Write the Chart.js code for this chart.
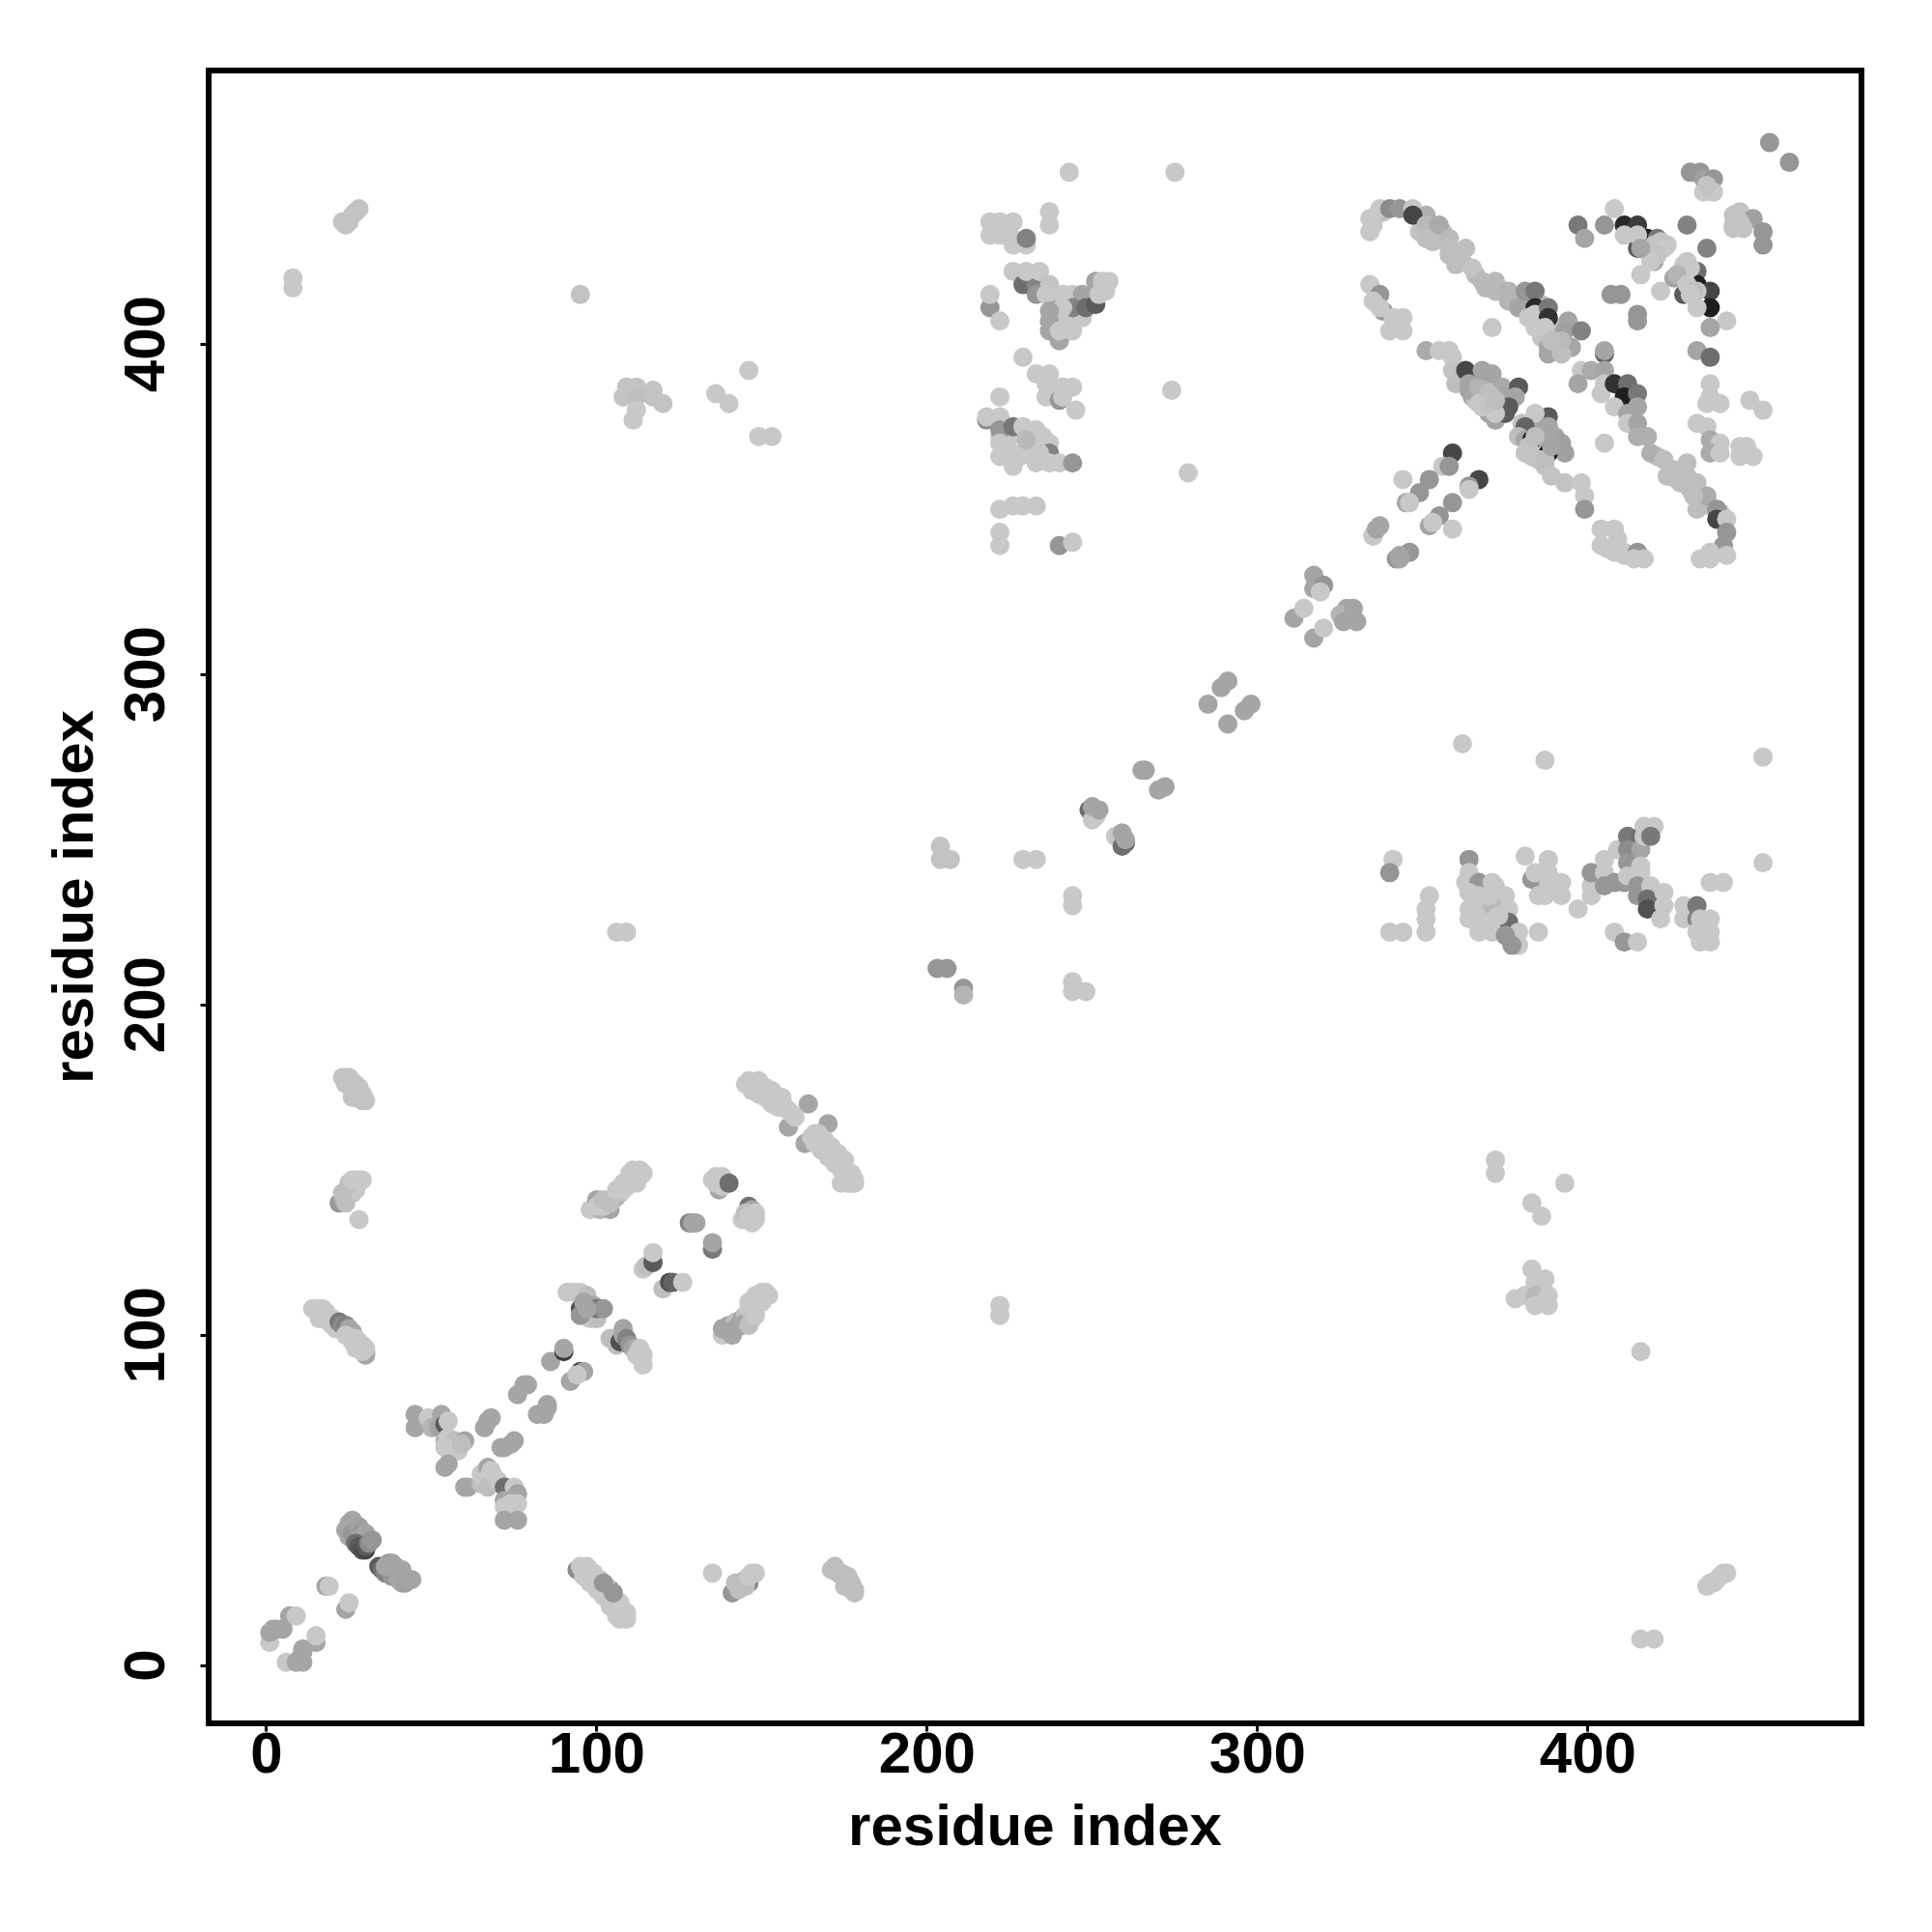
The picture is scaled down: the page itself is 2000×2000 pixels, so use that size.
<!DOCTYPE html>
<html>
<head>
<meta charset="utf-8">
<title>residue contacts</title>
<script src="https://cdn.jsdelivr.net/npm/chart.js@4"></script>
<style>
  html, body { margin: 0; background: #fff; }
  canvas { display: block; }
</style>
</head>
<body>
<canvas id="contacts" width="2000" height="2000"></canvas>
<script>
const xTicks = [0, 100, 200, 300, 400];
const yTicks = [0, 100, 200, 300, 400];
const axisLabel = 'residue index';

// contacts, one group per patch: residue x, residue y, grey level
const startX = [1,1,2,3,5,7,9,6,9,10,11,11,11,15,15,18,19,24,25];
const startY = [7,10,11,11,11,15,15,1,1,2,1,4,5,7,9,24,24,17,19];
const startG = [200,165,165,165,165,165,200,200,165,165,165,165,165,165,200,165,200,165,200];

const sheetAX = [24,25,26,27,25,26,28,29,28,30,27,28,29,30,30,31,32, 34,35,36,37,38,39,40,38,40,41,42,43,44,41,36];
const sheetAY = [41,43,44,42,39,40,42,40,38,40,37,36,35,35,36,37,38, 30,29,28,31,31,30,28,27,26,25,25,26,26,29,30];
const sheetAG = [165,165,165,165,165,150,160,150,165,165,110,90,80,70,90,140,150, 90,110,130,150,160,165,160,150,165,165,160,165,165,165,165];

const lowRowX = [94,95,96,97,98,99,100,101,102,103,104,104,105,106,107,108,108,107,109,106,96,98,100,102,104,106,107,109,97,99,101,103,102,105, 135, 141,142,143,144,145,146,142,143,145,147,148,146, 171,172,173,174,175,176,177,177,178,178,176,175];
const lowRowY = [29,30,29,28,27,26,25,24,23,22,23,20,19,18,17,16,15,14,14,15,27,25,23,21,18,16,19,16,30,28,26,24,25,22, 28, 22,23,25,24,26,25,25,23,24,28,28,27, 29,30,28,28,26,25,25,23,22,23,27,24];
const lowRowG = [140,200,200,200,200,200,200,200,200,200,130,200,200,200,200,200,200,200,200,200,200,200,200,200,200,200,200,200,200,200,200,200,150,150, 200, 150,150,165,150,165,130,190,190,190,200,200,200, 190,190,190,190,190,190,190,190,190,190,190,190];

const crossX = [45,45,49,50,53,52,54,55,54,56,55,57,54,58,60,59,55,54, 61,60,65,65,67,66,69,67,68,70,72,75,76,72,72,76,74,72,76];
const crossY = [72,76,75,72,76,72,73,74,68,66,69,68,66,65,68,67,61,60, 54,54,55,58,60,56,57,54,59,56,54,54,52,50,48,49,49,44,44];
const crossG = [165,165,200,180,165,165,90,200,180,200,200,190,200,200,165,190,165,165, 165,165,190,200,165,200,190,190,200,200,110,200,165,165,200,200,200,165,165];

const armX = [66,67,68,71,72,74,75, 76,78,79, 82,84,85,85, 86,90,90, 92,95,96,94];
const armY = [72,74,75,66,66,67,68, 82,85,85, 76,76,78,79, 92,95,96, 86,89,89,88];
const armG = [165,165,165,165,165,165,165, 165,165,165, 165,165,165,165, 165,60,165, 165,60,165,200];

const sheetBX = [91,93,95,97,95,96,96,97,98,100,99,100,102,95,97, 104,106,107,108,108,109,110,111,113,114,114,112, 114,115,117,117, 120,122,123,126, 128,129,130,135,135];
const sheetBY = [113,113,113,112,108,107,110,106,105,105,109,108,108,106,108, 99,97,98,102,100,99,97,96,96,94,91,94, 120,121,122,125, 114,116,116,116, 134,134,134,126,128];
const sheetBG = [200,200,200,190,80,60,165,150,200,190,165,120,150,150,165, 190,190,80,165,165,130,150,165,200,200,200,200, 200,190,90,200, 190,80,100,200, 130,165,165,120,165];

const bandX = [138,138,140,141,142,143,144,145,146,146,147,148,149,150,151,152,140,142,144,146,147,148,150,150,148,146, 98,100,101,104,102,103,105,106,107,108,109,110,111,112,113,114,100,102,104,106,108,110,111,113,112];
const bandY = [100,102,103,100,104,103,105,106,105,108,107,109,111,113,113,112,101,102,103,103,105,106,110,111,112,110, 138,141,138,138,139,140,141,142,143,144,145,147,148,149,150,149,139,141,140,144,146,149,150,148,146];
const bandG = [200,165,165,165,190,165,165,190,165,200,200,200,200,200,200,200,165,165,165,190,190,200,200,200,200,200, 200,165,180,165,200,190,190,165,190,200,200,200,200,200,200,200,200,190,190,200,200,200,200,200,200];

const topBandX = [135,136,138,137,136,138,140, 144,146,147,145,146,147,148,148, 158,163,164,170, 145,146,147,148,149,150,151,152,153,154,155,156,157,158,159,160,147,149,151,153,155,149,151,153,156, 165,166,167,168,169,170,171,172,173,174,175,176,176,177,178,175,174,166,168,170,172,174,176,178,167,169,171,173,175,177];
const topBandY = [147,148,148,144,146,145,146, 135,139,138,137,136,134,135,137, 163,158,170,164, 176,177,176,175,175,174,174,173,172,172,171,170,169,168,167,166,174,173,172,170,169,177,175,174,172, 160,161,159,158,157,156,155,154,153,152,150,149,147,146,146,148,146,158,156,154,152,150,146,147,161,159,157,155,153,149];
const topBandG = [200,200,200,165,200,200,110, 200,110,165,190,200,200,200,200, 165,165,165,165, 200,200,200,200,200,200,200,200,200,200,200,200,200,200,200,200,200,200,200,200,200,200,200,200,200, 200,200,200,200,200,200,200,200,200,200,200,200,200,200,200,200,200,200,200,200,200,200,200,200,200,200,200,200,200,200];

const leftX = [23,24,25,25,26,27,27,28,28,29,29,30,26,24,26, 22,23,24,25,24,25,26,27,28,29,26,27,23,25,27,26, 28, 14,15,16,17,17,18,19,20,21,16,18,20,22,23,24,25,26,24,26,27,27,28,28,29,30,30,30,29];
const leftY = [178,178,178,176,176,176,174,175,173,173,171,171,174,176,172, 140,141,142,143,140,144,145,146,147,147,143,144,143,146,147,147, 135, 108,108,107,108,106,105,104,103,102,105,107,105,104,103,103,102,101,100,98,99,96,98,96,97,95,94,96,95];
const leftG = [195,195,195,195,195,195,195,195,195,195,195,195,195,195,195, 150,165,165,150,190,140,165,200,200,200,190,200,190,190,200,200, 200, 200,200,200,200,200,200,200,200,200,200,200,200,120,140,130,165,165,200,200,200,200,200,200,200,120,165,200,200];

const farLeftX = [24,23,26,28,25,27, 8,8, 95, 109,112,108,112,117,117,120,111,112, 136,140,146,149,153, 243,275,274,279];
const farLeftY = [436,437,439,441,437,440, 420,417, 415, 387,387,384,384,386,384,382,377,380, 385,382,392,372,372, 452,452,386,361];
const farLeftG = [195,195,195,195,195,195, 200,200, 195, 195,195,195,190,195,195,195,200,200, 200,200,200,200,200, 200,200,200,200];

const midFillX = [222,224,226,228,230,232,235,225,228,232,226,243,246,249,245,241,238];
const midFillY = [372,370,367,366,368,369,372,372,373,366,364,408,409,413,413,408,412];
const midFillG = [200,200,200,200,200,200,200,200,200,200,200,200,195,190,190,200,165];

const midTopX = [237,237, 219,222,226,219,222,223,226,225,226,230,230, 226,229,233,230,234,237,233,236,241,244,247, 247,244,241,237,237,237,240,240,244,248,251,251,253,255,254,252, 219,219,222,229, 233,237,236,241,244,236,240,241,245, 222,218,218,222,222,226,229,233,222,222,226,230,233,237,237,234,237,240,244, 222,226,229,233, 222,222,240,244];
const midTopY = [440,436, 437,437,437,433,433,435,431,433,430,430,432, 422,418,418,422,422,418,415,415,415,415,415, 408,411,411,410,407,404,401,404,404,411,412,419,419,419,416,415, 411,415,407,396, 391,391,388,387,387,384,383,384,380, 384,377,378,378,374,375,375,374,370,366,363,371,364,370,367,367,364,364,364, 350,351,351,351, 343,339,339,340];
const midTopG = [200,200, 200,200,200,200,200,200,140,200,200,200,130, 200,110,130,200,200,195,150,200,200,200,165, 200,130,200,165,165,165,165,200,200,110,90,165,200,200,200,200, 150,200,200,200, 200,200,200,200,200,200,150,200,200, 200,140,200,200,150,120,200,200,200,200,200,185,200,200,130,200,200,200,150, 200,200,200,200, 200,200,150,200];

const ridgeFillX = [365,366,366,369,372,376,373,369,366,370,372,375, 380,382,384,385,386,385,383,387,390,390,387,384, 384,386,387,390,390,386,391,394,395,388, 335,336,338,349,352,353,356,358,361,362,366,369,373,378, 421,426,427,431,435,437,440,406,409,411];
const ridgeFillY = [384,388,385,388,385,382,380,381,383,379,377,379, 376,373,377,375,373,368,366,376,369,372,363,370, 413,412,410,405,403,402,402,407,399,399, 436,439,440,434,434,431,434,427,427,425,421,417,417,413, 366,362,359,356,352,351,349,338,341,336];
const ridgeFillG = [165,20,165,190,180,165,190,195,195,165,165,90, 195,100,195,195,165,195,195,165,165,165,195,195, 165,190,195,190,190,195,185,165,165,165, 200,200,190,195,190,190,190,190,190,190,185,185,180,180, 190,190,190,190,190,190,185,200,200,200];

const ridgeAX = [334,334,337,340,343,347,351,347,351,355,351,358,358,363,360,365,368,372,372,376,376,379,381,384,384,382,384,388,388,384,387,393,398,388,392,392,389, 371, 407,410, 415,415];
const ridgeAY = [434,438,441,441,441,441,439,439,436,436,432,432,429,429,424,423,419,419,416,416,413,411,416,416,411,408,409,411,408,405,405,404,404,397,401,397,401, 405, 415,415, 409,407];
const ridgeAG = [200,200,200,140,150,200,175,70,185,170,190,185,190,190,190,195,185,185,185,180,180,165,150,120,40,200,200,120,50,200,200,160,130,165,185,190,190, 200, 150,150, 150,150];

const ridgeBX = [334,337,335,338,337,341,344,340,344, 351,355,358,359,359,360,363,364,364,367,371,367,374,371,375,370,368,379,378,376,372,368, 388,384,381,388,379,381,383,388,392,393,388,381,385,389,393,398,399,399, 370,372,382,384,387,389];
const ridgeBY = [418,415,413,410,411,408,408,404,404, 398,398,398,396,392,388,392,388,386,387,384,382,387,391,384,385,392,387,384,381,379,381, 378,379,375,375,372,371,371,371,370,367,367,367,365,360,358,358,354,350, 382,383,369,372,365,369];
const ridgeBG = [200,150,200,150,200,200,200,200,200, 170,200,200,200,195,190,70,165,165,180,20,200,170,165,165,190,165,90,165,90,200,200, 90,200,100,165,190,165,20,165,160,160,20,195,195,195,195,200,200,150, 195,190,195,190,190,165];

const ridgeCX = [405,405,398,401,405,397,404,405,408,412,411,415,415,408,412, 405,412,415,415,418,419,423,424,430,430,428,433,433,436,432,439,439,442,442,441, 434,437,442,437, 404,408,404,408,408,411,415,414,417];
const ridgeCY = [397,398,392,392,392,388,385,388,388,388,384,385,381,381,379, 370,376,376,372,372,367,365,360,364,360,358,358,350,354,354,350,347,347,343,339, 335,335,336,337, 344,344,339,339,337,337,337,335,335];
const ridgeCG = [100,165,200,170,165,165,200,200,50,110,30,120,165,200,165, 200,200,165,175,175,175,190,190,190,190,190,190,190,170,190,150,70,200,150,150, 200,200,200,200, 200,200,200,200,200,200,150,200,200];

const diagUpX = [359,356,358,344,352,349,345,346,367,364,364,359,355,352,353,359,337,335,335,336,346,342,343,343];
const diagUpY = [367,363,363,359,359,355,352,352,359,357,356,352,348,345,346,344,345,342,342,344,337,335,336,335];
const diagUpG = [70,200,150,200,150,150,165,200,70,150,200,150,150,165,200,200,165,100,200,165,150,150,165,165];

const cornerX = [431,434,435,438,435,438,436, 444,446,450,444,447,453,453,444,446, 455,461, 408,397,399,405,411,415,418,421,415,411,415,420,419,424,418,420,422,423,421,419,416, 430,436,416,422, 430,426,433,433,429,437,437,433,433,442,437,433,437,429,431,427,430,432,431];
const cornerY = [452,452,450,450,446,446,448, 439,440,438,435,435,434,430,436,437, 461,455, 441,436,432,436,436,436,432,432,429,433,433,425,428,430,428,430,431,429,427,425,429, 436,429,421,416, 425,420,422,418,415,416,411,411,416,407,405,398,396,424,423,421,418,416,415];
const cornerG = [150,150,160,150,200,200,195, 195,195,160,195,195,150,150,195,195, 150,150, 200,120,165,150,40,60,30,120,90,200,200,165,200,200,195,195,195,200,195,200,165, 130,130,200,200, 200,165,110,30,90,70,30,200,200,200,165,165,110,200,200,180,200,190,200];

const rightX = [437,436,440,437,449,453,433,436,437,440,437,440,446,448,446,450, 362,387,453,453];
const rightY = [388,382,382,384,383,380,376,375,371,370,367,367,369,369,366,366, 279,274,275,243];
const rightG = [200,200,200,200,200,200,200,200,170,200,170,200,200,200,200,200, 200,200,200,200];

const diagMidX = [311,314,317,320,317,317,320,319,327,325,326,330,329, 285,289,291,291,296,298, 265,266,270,272, 249,251,250,252,250,257,260,259,259,260];
const diagMidY = [317,320,311,314,330,326,327,325,320,318,316,316,320, 291,296,298,285,289,291, 271,271,265,266, 259,257,256,259,260,251,249,248,252,250];
const diagMidG = [165,200,165,200,165,165,150,200,165,180,165,165,165, 165,165,165,165,165,165, 165,165,165,165, 110,200,200,165,165,200,100,110,165,165];

const lowMidX = [204,204,207,229,233,244,244, 106,109, 203,206,211,211,244,244,248, 222,222];
const lowMidY = [248,244,244,244,244,233,230, 222,222, 211,211,205,203,207,204,204, 109,106];
const lowMidG = [195,195,195,200,200,200,200, 200,200, 150,150,150,180,200,200,200, 200,200];

const blockAX = [341,340,364,364,363,367,371,352,351,351,351,340,344,364,375,364,367,371,376,376,367,371,379,375,379,377,385,367,370,373,367,370,364,372];
const blockAY = [244,240,244,240,237,237,237,233,229,226,222,222,222,234,233,226,229,230,229,225,222,222,222,221,218,218,222,233,233,227,225,225,229,236];
const blockAG = [200,150,150,200,200,150,200,200,200,200,200,200,200,200,200,200,200,185,200,110,200,200,200,150,200,150,200,200,200,200,200,200,200,200];

const blockBX = [381,383,384,388,388,388,392,392,397,401,401,401,405,405,405,408,411,409,412,412,412,412,416,416,416,416,417,420,417,419,415,415,419,418,418,423,423,422,408,411,415,385,387,389];
const blockBY = [245,238,240,244,240,236,237,233,229,233,236,240,244,240,236,237,237,247,251,247,243,239,251,247,242,240,254,254,251,251,236,233,236,232,229,234,230,226,222,219,219,233,233,238];
const blockBG = [200,150,200,200,200,200,200,200,200,200,200,150,200,200,150,150,150,200,120,140,150,200,110,165,200,200,200,200,200,120,150,150,200,110,80,200,200,200,200,150,200,200,200,200];

const blockCX = [437,441,429,429,433,433,434,437,433,437,434,437];
const blockCY = [237,237,230,226,230,226,226,226,222,222,219,219];
const blockCG = [200,200,200,200,120,130,200,200,200,200,200,200];

const lowRightX = [372,372,393,383,386,383,387,384,378,381,384,388,384,388, 416, 436,437,438,439,440,441,442, 416,420];
const lowRightY = [153,149,146,140,136,120,117,116,111,112,112,112,109,109, 95, 24,25,25,26,27,28,28, 8,8];
const lowRightG = [200,200,200,200,200,200,200,200,200,200,185,200,200,200, 200, 200,200,200,200,200,200,200, 200,200];

const allX = [startX,sheetAX,lowRowX,crossX,armX,sheetBX,bandX,topBandX,leftX,farLeftX,midFillX,midTopX,ridgeFillX,ridgeAX,ridgeBX,ridgeCX,diagUpX,cornerX,rightX,diagMidX,lowMidX,blockAX,blockBX,blockCX,lowRightX].flat();
const allY = [startY,sheetAY,lowRowY,crossY,armY,sheetBY,bandY,topBandY,leftY,farLeftY,midFillY,midTopY,ridgeFillY,ridgeAY,ridgeBY,ridgeCY,diagUpY,cornerY,rightY,diagMidY,lowMidY,blockAY,blockBY,blockCY,lowRightY].flat();
const allG = [startG,sheetAG,lowRowG,crossG,armG,sheetBG,bandG,topBandG,leftG,farLeftG,midFillG,midTopG,ridgeFillG,ridgeAG,ridgeBG,ridgeCG,diagUpG,cornerG,rightG,diagMidG,lowMidG,blockAG,blockBG,blockCG,lowRightG].flat();

const fontBold = { family: '"Liberation Sans", Arial, sans-serif', size: 60, weight: 'bold' };

const boxFrame = {
  id: 'boxFrame',
  afterDraw(chart) {
    const a = chart.chartArea, c = chart.ctx;
    c.save();
    c.strokeStyle = '#000';
    c.lineWidth = 6;
    c.strokeRect(a.left, a.top, a.right - a.left, a.bottom - a.top);
    c.restore();
  }
};

new Chart(document.getElementById('contacts'), {
  type: 'scatter',
  data: {
    datasets: [{
      data: allX.map((x, i) => ({ x: x, y: allY[i] })),
      backgroundColor: allG.map(g => `rgb(${g},${g},${g})`),
      pointRadius: 10,
      pointBorderWidth: 0,
      clip: false
    }]
  },
  options: {
    responsive: false,
    animation: false,
    layout: { padding: { top: 73, right: 73, left: 0, bottom: 0 } },
    plugins: { legend: { display: false }, tooltip: { enabled: false } },
    scales: {
      x: {
        type: 'linear',
        min: -17.5,
        max: 482.8,
        afterFit: s => { s.height = 216; },
        afterBuildTicks: s => { s.ticks = xTicks.map(v => ({ value: v })); },
        border: { display: false },
        grid: { drawOnChartArea: false, tickLength: 8.5, tickWidth: 3, tickColor: '#000' },
        ticks: { color: '#000', font: fontBold, padding: -10, maxRotation: 0, autoSkip: false },
        title: { display: true, text: axisLabel, color: '#000', font: fontBold, padding: { top: 0, bottom: 71 } }
      },
      y: {
        type: 'linear',
        min: -17.5,
        max: 482.8,
        afterFit: s => { s.width = 216; },
        afterBuildTicks: s => { s.ticks = yTicks.map(v => ({ value: v })); },
        border: { display: false },
        grid: { drawOnChartArea: false, tickLength: 8.5, tickWidth: 3, tickColor: '#000' },
        ticks: { color: '#000', font: fontBold, padding: 4, minRotation: 90, maxRotation: 90, crossAlign: 'center', autoSkip: false },
        title: { display: true, text: axisLabel, color: '#000', font: fontBold, padding: { top: 43, bottom: 0 } }
      }
    }
  },
  plugins: [boxFrame]
});
</script>
</body>
</html>
